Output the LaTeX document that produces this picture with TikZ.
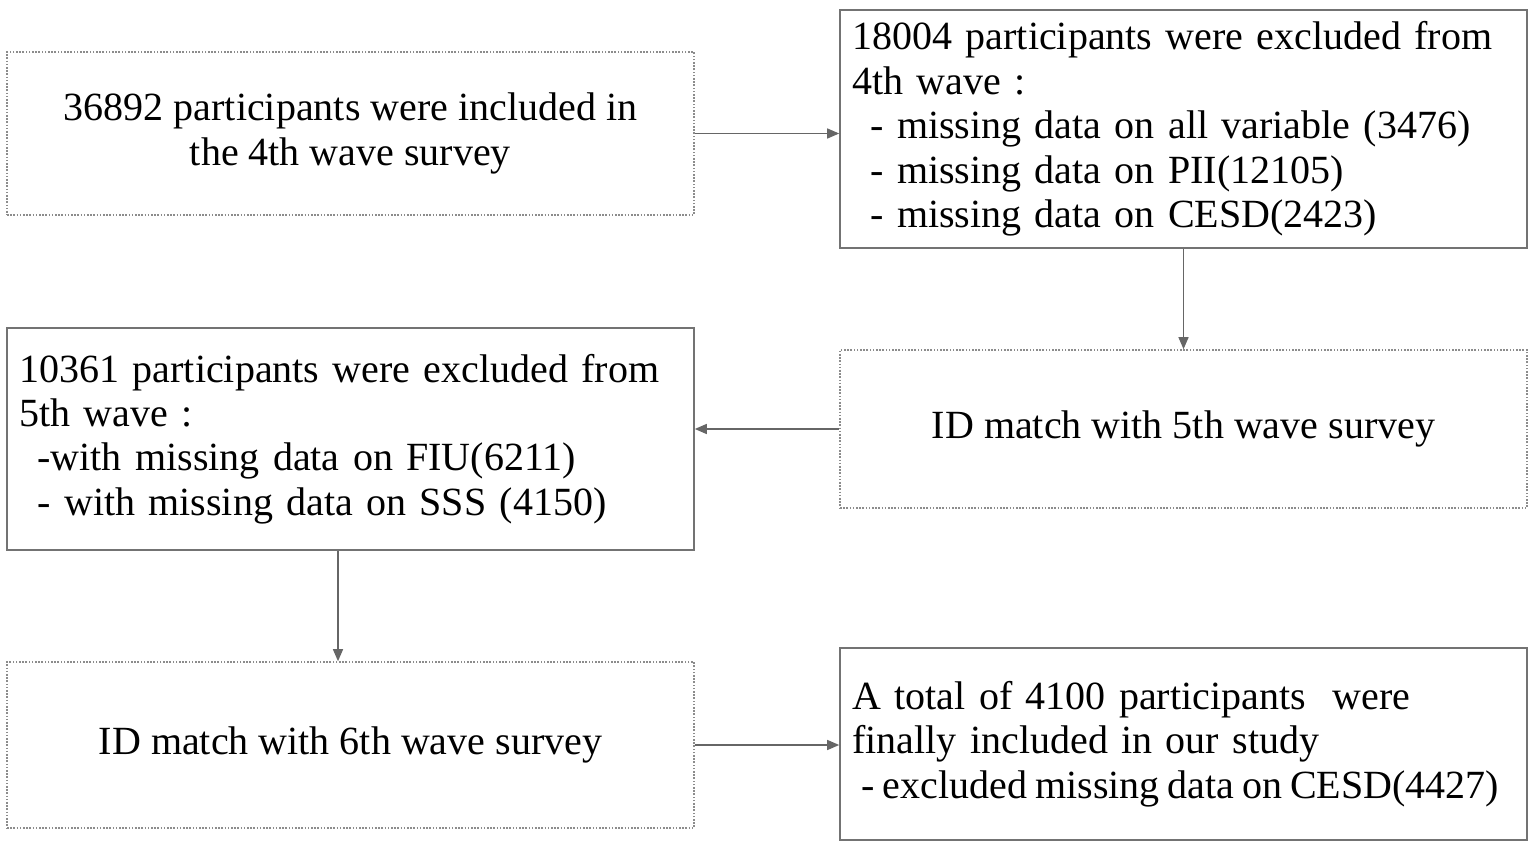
\documentclass[tikz,border=0pt]{standalone}
\usepackage{fontspec}
\setmainfont{Liberation Serif}
\usetikzlibrary{arrows.meta}
\tikzset{
  solidbox/.style={draw=black!55, line width=0.8pt, rectangle, inner sep=6pt,
    font=\fontsize{20}{22.2}\selectfont},
  dotbox/.style={solidbox, draw=black!45, dash pattern=on 0.8pt off 0.8pt},
  flow/.style={draw=black!60, line width=0.7pt, -{Triangle[length=6pt,width=5pt]}}
}
\begin{document}
\begin{tikzpicture}[x=0.5pt, y=-0.5pt]
  \useasboundingbox (0,0) rectangle (1535,849);

  % Left column
  \node[dotbox, minimum width=343.5pt, minimum height=81.5pt, align=center]
    (incl) at (350.5,133.5) {36892 participants were included in\\the 4th wave survey};
  \node[solidbox, minimum width=343.5pt, minimum height=111pt, text width=331pt, align=left]
    (excl5) at (350.5,439) {10361 participants were excluded from\\5th wave :\\
    \hspace*{9pt}-with missing data on FIU(6211)\\
    \hspace*{9pt}- with missing data on SSS (4150)};
  \node[dotbox, minimum width=343.5pt, minimum height=83pt, align=center]
    (match6) at (350.5,745) {ID match with 6th wave survey};

  % Right column
  \node[solidbox, minimum width=343.5pt, minimum height=119pt, text width=331pt, align=left]
    (excl4) at (1183.5,129) {18004 participants were excluded from\\4th wave :\\
    \hspace*{9pt}- missing data on all variable (3476)\\
    \hspace*{9pt}- missing data on PII(12105)\\
    \hspace*{9pt}- missing data on CESD(2423)};
  \node[dotbox, minimum width=343.5pt, minimum height=79pt, align=center]
    (match5) at (1183.5,429) {ID match with 5th wave survey};
  \node[solidbox, minimum width=343.5pt, minimum height=96pt, text width=331pt, align=left]
    (final) at (1183.5,744) {A total of 4100 participants\ \ were\\finally included in our study\\
    \mbox{\spaceskip=0.2em\relax\hspace*{4.5pt}- excluded missing data on CESD(4427)}};

  % Connectors
  \draw[flow] (incl.east) -- (incl.east -| excl4.west);
  \draw[flow] (excl4.south) -- (match5.north);
  \draw[flow] (match5.west) -- (match5.west -| excl5.east);
  \coordinate (down) at ([xshift=-6.25pt]excl5.south);
  \draw[flow] (down) -- (down |- match6.north);
  \draw[flow] (match6.east) -- (match6.east -| final.west);
\end{tikzpicture}
\end{document}
